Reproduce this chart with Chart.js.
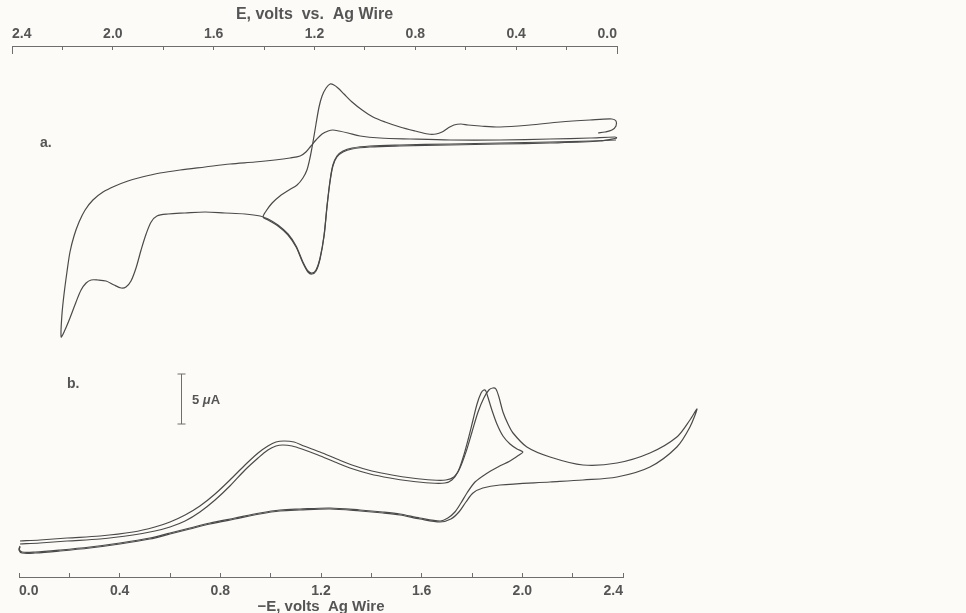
<!DOCTYPE html>
<html>
<head>
<meta charset="utf-8">
<script src="https://cdn.jsdelivr.net/npm/chart.js@4.4.1/dist/chart.umd.min.js"></script>
<style>
  html, body { margin: 0; padding: 0; background: #fcfbf7; }
  #wrap { position: relative; width: 966px; height: 613px; overflow: hidden; }
  canvas { position: absolute; left: 0; }
  #chartA { top: 0; }
  #chartB { top: 350px; }
  .lbl { position: absolute; font-family: "Liberation Sans", Arial, sans-serif; font-weight: bold; color: #555; font-size: 14px; }
</style>
</head>
<body>
<div id="wrap">
  <canvas id="chartA" width="966" height="350"></canvas>
  <canvas id="chartB" width="966" height="263"></canvas>
  <div class="lbl" style="left:40px; top:134px;">a.</div>
  <div class="lbl" style="left:67px; top:375px;">b.</div>
  <div class="lbl" style="left:192px; top:392px; font-size:13px;">5 <i>μ</i>A</div>
</div>
<script>
// Curve a: E (V vs Ag wire) and current (uA)
// cycle 1: 0 -> 2.2 V and back
const a1E = [0.004, 0.107, 0.266, 0.464, 0.662, 0.861, 0.980, 1.051, 1.087, 1.111, 1.127, 1.138, 1.150, 1.162, 1.178, 1.194, 1.210, 1.226, 1.246, 1.273, 1.305, 1.345, 1.384, 1.416, 1.476, 1.555, 1.634, 1.714, 1.781, 1.825, 1.848, 1.868, 1.888, 1.908, 1.928, 1.948, 1.967, 1.995, 2.027, 2.059, 2.086, 2.106, 2.126, 2.146, 2.170, 2.190, 2.205,
  2.202, 2.194, 2.182, 2.170, 2.154, 2.134, 2.110, 2.079, 2.039, 1.991, 1.940, 1.884, 1.813, 1.733, 1.634, 1.535, 1.436, 1.357, 1.297, 1.257, 1.234, 1.214, 1.194, 1.170, 1.146, 1.127, 1.103, 1.067, 1.019, 0.940, 0.821, 0.662, 0.464, 0.266, 0.107, 0.008, 0.000];
const a1I = [1.0, 0.9, 0.8, 0.7, 0.6, 0.5, 0.4, 0.2, -0.1, -0.6, -1.5, -3.0, -5.5, -8.5, -10.8, -12.0, -12.3, -12.1, -11.2, -9.6, -8.4, -7.5, -6.9, -6.6, -6.4, -6.3, -6.2, -6.3, -6.4, -6.6, -7.2, -8.4, -10.0, -11.8, -13.1, -13.7, -13.8, -13.5, -13.1, -13.0, -13.0, -13.3, -14.0, -15.2, -16.8, -18.0, -18.7,
  -16.5, -14.5, -12.2, -10.2, -8.6, -7.2, -6.0, -5.0, -4.2, -3.6, -3.1, -2.7, -2.3, -2.0, -1.7, -1.4, -1.2, -1.0, -0.8, -0.6, -0.2, 0.4, 1.0, 1.6, 1.9, 2.0, 1.9, 1.7, 1.4, 1.2, 1.1, 1.0, 1.0, 1.1, 1.2, 1.3, 1.2];
// cycle 2: 0 -> 1.4 V and back
const a2E = [0.000, 0.067, 0.266, 0.464, 0.662, 0.861, 0.980, 1.051, 1.087, 1.111, 1.127, 1.138, 1.150, 1.162, 1.178, 1.194, 1.210, 1.226, 1.246, 1.273, 1.305, 1.345, 1.384, 1.404,
  1.392, 1.368, 1.337, 1.301, 1.269, 1.246, 1.230, 1.218, 1.206, 1.194, 1.182, 1.170, 1.154, 1.138, 1.123, 1.107, 1.083, 1.051, 1.011, 0.968, 0.920, 0.861, 0.801, 0.750, 0.718, 0.694, 0.670, 0.647, 0.619, 0.591, 0.543, 0.464, 0.345, 0.226, 0.107, 0.020, 0.004, 0.004, 0.020, 0.048, 0.075];
const a2I = [1.2, 0.9, 0.7, 0.6, 0.5, 0.4, 0.3, 0.1, -0.2, -0.7, -1.6, -3.1, -5.6, -8.6, -10.9, -12.1, -12.4, -12.2, -11.3, -9.7, -8.5, -7.6, -7.0, -6.7,
  -6.1, -5.3, -4.6, -4.0, -3.5, -2.8, -2.0, -0.8, 0.8, 2.6, 4.3, 5.4, 6.2, 6.6, 6.5, 6.2, 5.6, 4.8, 4.0, 3.3, 2.8, 2.3, 1.9, 1.6, 1.6, 1.8, 2.2, 2.5, 2.6, 2.5, 2.4, 2.3, 2.5, 2.8, 3.0, 3.1, 2.9, 2.4, 2.0, 1.8, 1.7];

// Curve b: -E (V vs Ag wire) and current (uA)
// cycle 1: 0 -> 2.0 V and back
const b1E = [0.004, 0.083, 0.191, 0.322, 0.453, 0.540, 0.600, 0.660, 0.719, 0.779, 0.838, 0.898, 0.950, 0.989, 1.021, 1.049, 1.085, 1.124, 1.188, 1.255, 1.315, 1.395, 1.474, 1.553, 1.633, 1.692, 1.720, 1.744, 1.764, 1.784, 1.804, 1.820, 1.836, 1.847, 1.855, 1.863, 1.879, 1.899, 1.923, 1.951, 1.979, 2.002,
  1.987, 1.951, 1.903, 1.855, 1.812, 1.780, 1.756, 1.732, 1.704, 1.673, 1.593, 1.514, 1.446, 1.355, 1.236, 1.116, 1.037, 0.957, 0.858, 0.759, 0.679, 0.600, 0.520, 0.401, 0.282, 0.163, 0.064, 0.012, 0.000, 0.004];
const b1I = [-4.4, -4.3, -4.1, -3.9, -3.5, -3.1, -2.7, -2.1, -1.2, 0.0, 1.4, 3.0, 4.2, 5.0, 5.4, 5.5, 5.4, 5.1, 4.5, 3.8, 3.2, 2.6, 2.2, 1.9, 1.7, 1.7, 2.0, 2.8, 4.2, 6.0, 8.0, 9.6, 10.7, 11.0, 10.9, 10.3, 9.0, 7.6, 6.4, 5.6, 5.1, 4.8,
  4.5, 3.9, 3.3, 2.6, 1.8, 0.7, -0.3, -1.2, -1.8, -2.1, -1.8, -1.4, -1.2, -1.0, -0.8, -0.9, -1.0, -1.3, -1.8, -2.3, -2.8, -3.3, -3.8, -4.3, -4.7, -5.0, -5.2, -5.2, -4.9, -4.6];
// cycle 2: 0 -> 2.7 V and back
const b2E = [0.004, 0.083, 0.191, 0.322, 0.453, 0.540, 0.600, 0.660, 0.719, 0.779, 0.838, 0.898, 0.950, 0.989, 1.021, 1.053, 1.093, 1.132, 1.196, 1.263, 1.323, 1.402, 1.482, 1.561, 1.641, 1.696, 1.728, 1.752, 1.776, 1.800, 1.824, 1.847, 1.867, 1.883, 1.895, 1.907, 1.923, 1.943, 1.963, 2.018, 2.110, 2.241, 2.376, 2.507, 2.614, 2.666, 2.694,
  2.666, 2.614, 2.507, 2.376, 2.241, 2.110, 1.911, 1.843, 1.804, 1.776, 1.748, 1.716, 1.673, 1.593, 1.514, 1.446, 1.355, 1.236, 1.116, 1.037, 0.957, 0.858, 0.759, 0.679, 0.600, 0.520, 0.401, 0.282, 0.163, 0.064, 0.012, 0.000, 0.004];
const b2I = [-4.1, -4.0, -3.8, -3.6, -3.2, -2.7, -2.2, -1.5, -0.6, 0.6, 2.0, 3.5, 4.7, 5.4, 5.8, 5.9, 5.8, 5.4, 4.8, 4.1, 3.5, 2.9, 2.5, 2.2, 2.0, 2.0, 2.3, 3.2, 4.8, 6.8, 8.8, 10.2, 11.0, 11.2, 11.1, 10.3, 8.8, 7.6, 6.7, 5.3, 4.3, 3.5, 3.7, 4.7, 6.3, 8.0, 9.1,
  7.3, 5.3, 3.3, 2.3, 2.0, 1.8, 1.5, 1.2, 0.7, -0.2, -1.2, -1.9, -2.2, -1.9, -1.5, -1.3, -1.1, -0.9, -1.0, -1.1, -1.4, -1.9, -2.4, -2.9, -3.4, -3.9, -4.4, -4.8, -5.1, -5.3, -5.3, -5.0, -4.7];

const tickStep = 0.2;
const labelStep = 0.4;

// scale bar: 5 uA drawn at -E = 0.644 V
const barE = 0.644;
const barLow = 7.6;
const barSpan = 5;

const ink = '#4a4a4a';
const axisInk = '#6e6e6e';
const textInk = '#555';
const fontFam = '"Liberation Sans", Arial, sans-serif';

// top axis runs 2.4 -> 0.0 left to right, so plot a is placed at -E
function pts(xs, ys, sign) {
    return xs.map((x, i) => ({ x: sign * x, y: ys[i] }));
}

function trace(xs, ys, sign) {
    return {
        data: pts(xs, ys, sign),
        showLine: true,
        borderColor: ink,
        borderWidth: 1.2,
        pointRadius: 0,
        tension: 0.3,
        clip: false
    };
}

function tickLabel(value) {
    let n = Math.round(Math.abs(value) * 10);
    if (n % Math.round(labelStep * 10) === 0) return (n / 10).toFixed(1);
    return '';
}

function xAxis(position, titleText, axisHeight, min, max, o) {
    return {
        type: 'linear',
        position: position,
        min: min,
        max: max,
        afterFit: function(scale) { scale.height = axisHeight; },
        ticks: {
            stepSize: tickStep,
            autoSkip: false,
            maxRotation: 0,
            align: 'inner',
            padding: o.tickPad,
            color: textInk,
            font: { family: fontFam, size: o.tickSize, weight: 'bold' },
            callback: tickLabel
        },
        title: {
            display: true,
            text: titleText,
            color: textInk,
            padding: o.titlePad,
            font: { family: fontFam, size: o.titleSize, weight: 'bold' }
        },
        grid: {
            drawOnChartArea: false,
            drawTicks: true,
            tickLength: -4,
            color: axisInk,
            lineWidth: 1
        },
        border: { display: true, color: axisInk, width: 1 }
    };
}

// longer ticks at the ends of the top axis, and the current scale bar
const extras = {
    id: 'extras',
    afterDraw(chart, args, opts) {
        const c = chart.ctx;
        const xs = chart.scales.x;
        const ys = chart.scales.y;
        c.save();
        c.strokeStyle = axisInk;
        c.lineWidth = 1;
        if (opts.endTicks) {
            [xs.min, xs.max].forEach(v => {
                const px = Math.round(xs.getPixelForValue(v)) + 0.5;
                c.beginPath();
                c.moveTo(px, xs.bottom);
                c.lineTo(px, xs.bottom + 8);
                c.stroke();
            });
        }
        if (opts.scaleBar) {
            const bx = Math.round(xs.getPixelForValue(barE)) + 0.5;
            const y1 = ys.getPixelForValue(barLow);
            const y2 = ys.getPixelForValue(barLow + barSpan);
            c.beginPath();
            c.moveTo(bx, y1); c.lineTo(bx, y2);
            c.moveTo(bx - 4, y1); c.lineTo(bx + 4, y1);
            c.moveTo(bx - 4, y2); c.lineTo(bx + 4, y2);
            c.stroke();
        }
        c.restore();
    }
};

let chartA = new Chart(document.getElementById('chartA'), {
    type: 'scatter',
    data: { datasets: [trace(a1E, a1I, -1), trace(a2E, a2I, -1)] },
    options: {
        responsive: false,
        animation: false,
        layout: { padding: { left: 12, right: 349, top: 0, bottom: 0 } },
        plugins: {
            legend: { display: false },
            tooltip: { enabled: false },
            extras: { endTicks: true, scaleBar: false }
        },
        scales: {
            x: xAxis('top', 'E, volts  vs.  Ag Wire', 46, -2.4, 0,
                     { tickPad: 7, tickSize: 14, titleSize: 16, titlePad: { top: 5, bottom: 0 } }),
            y: { display: false, min: -20, max: 10.4 }
        }
    },
    plugins: [extras]
});

let chartB = new Chart(document.getElementById('chartB'), {
    type: 'scatter',
    data: { datasets: [trace(b1E, b1I, 1), trace(b2E, b2I, 1)] },
    options: {
        responsive: false,
        animation: false,
        layout: { padding: { left: 19, right: 343, top: 0, bottom: 0 } },
        plugins: {
            legend: { display: false },
            tooltip: { enabled: false },
            extras: { endTicks: false, scaleBar: true }
        },
        scales: {
            x: xAxis('bottom', '\u2212E, volts  Ag Wire', 36, 0, 2.4,
                     { tickPad: 10, tickSize: 14, titleSize: 15, titlePad: { top: 0, bottom: -3 } }),
            y: { display: false, min: -7.7, max: 15 }
        }
    },
    plugins: [extras]
});
</script>
</body>
</html>
